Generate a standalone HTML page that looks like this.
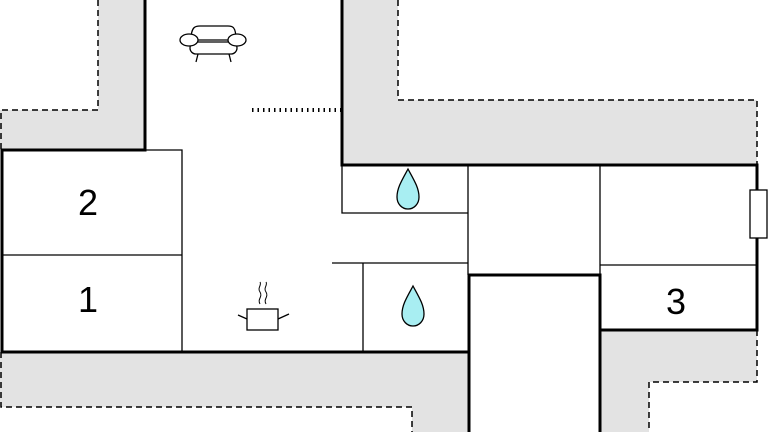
<!DOCTYPE html><html><head><style>body{margin:0;background:#fff}svg{display:block}</style></head><body>
<svg width="768" height="432" viewBox="0 0 768 432" xmlns="http://www.w3.org/2000/svg">
<g fill="#e3e3e3" stroke="none">
<polygon points="98,0 145,0 145,150 0,150 0,110 98,110"/>
<polygon points="342,0 398,0 398,100 757,100 757,165 342,165"/>
<polygon points="0,352 469,352 469,432 412,432 412,407 0,407"/>
<polygon points="600,330 757,330 757,382 649,382 649,432 600,432"/>
</g>
<g fill="none" stroke="#000" stroke-width="1.5" stroke-dasharray="6,4">
<polyline points="98,0 98,110 1,110 1,150"/>
<polyline points="398,0 398,100 757,100 757,165"/>
<polyline points="1,352 1,407 412,407 412,432"/>
<polyline points="757,330 757,382 649,382 649,432"/>
</g>
<g stroke="#000" stroke-width="1.3" fill="none">
<polyline points="145,150 182,150 182,352"/>
<line x1="2" y1="255" x2="182" y2="255"/>
<polyline points="342,165 342,213 468,213"/>
<line x1="468" y1="165" x2="468" y2="275"/>
<line x1="332" y1="263" x2="468" y2="263"/>
<line x1="363" y1="263" x2="363" y2="352"/>
<line x1="600" y1="165" x2="600" y2="275"/>
<line x1="600" y1="265" x2="757" y2="265"/>
</g>
<g stroke="#000" stroke-width="3" fill="none">
<polyline points="145,0 145,150 2,150 2,352 469,352"/>
<polyline points="342,0 342,165 757,165 757,330 600,330"/>
<polyline points="469,432 469,275 600,275 600,432"/>
</g>
<rect x="750" y="190" width="17" height="48" fill="#fff" stroke="#000" stroke-width="1.3"/>
<line x1="252" y1="110" x2="342" y2="110" stroke="#000" stroke-width="4" stroke-dasharray="1.5,4"/>
<g font-family="Liberation Sans, sans-serif" font-size="36" text-anchor="middle" fill="#000">
<text x="88" y="215">2</text><text x="88" y="312">1</text><text x="676" y="314">3</text>
</g>
<g fill="#a8eef2" stroke="#000" stroke-width="1.3">
<path d="M408,169 C402,180 397,188 397,197 C397,204 402,209 408,209 C414,209 419,204 419,197 C419,188 414,180 408,169Z"/>
<path d="M413,286 C407,297 402,305 402,314 C402,321 407,326 413,326 C419,326 424,321 424,314 C424,305 419,297 413,286Z"/>
</g>
<g stroke="#000" stroke-width="1.3" fill="#fff">
<path d="M191,40 C191,26 196,26 200,26 L228,26 C232,26 236,26 236,40 Z"/>
<rect x="190" y="42" width="47" height="12" rx="6"/>
<ellipse cx="189" cy="40" rx="9" ry="6"/>
<ellipse cx="237" cy="40" rx="9" ry="6"/>
<line x1="198" y1="54" x2="196" y2="62"/><line x1="229" y1="54" x2="231" y2="62"/>
<rect x="247" y="309" width="31" height="21"/>
<line x1="238" y1="315" x2="247" y2="319"/><line x1="278" y1="319" x2="289" y2="314"/>
<path d="M260,304 c-3,-5 3,-7 0,-12 c-3,-4 2,-7 0,-10" fill="none" stroke-width="1"/>
<path d="M266,304 c-3,-5 3,-7 0,-12 c-3,-4 2,-7 0,-10" fill="none" stroke-width="1"/>
</g>
</svg>
</body></html>
